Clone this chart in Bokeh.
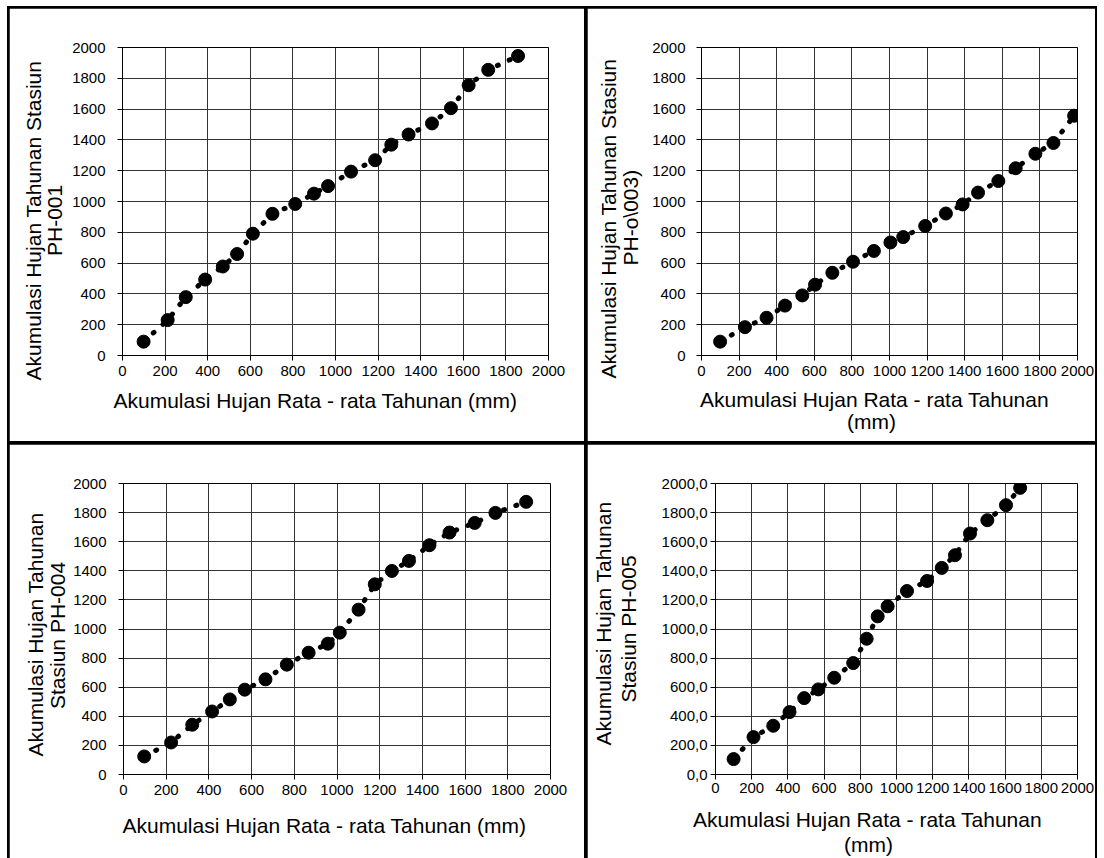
from bokeh.plotting import figure
from bokeh.layouts import column, row
from bokeh.models import FixedTicker, Range1d, Title
from bokeh.embed import file_html
from bokeh.resources import INLINE

# ---------------- data ----------------
tick_values = [0, 200, 400, 600, 800, 1000, 1200, 1400, 1600, 1800, 2000]
x_tick_labels = ["0", "200", "400", "600", "800", "1000", "1200", "1400", "1600", "1800", "2000"]
y_tick_labels = ["0", "200", "400", "600", "800", "1000", "1200", "1400", "1600", "1800", "2000"]
y_tick_labels_dec = ["0,0", "200,0", "400,0", "600,0", "800,0", "1000,0", "1200,0",
                     "1400,0", "1600,0", "1800,0", "2000,0"]

ph001_x = [99, 212, 297, 388, 471, 538, 612, 704, 811, 899, 965, 1073, 1186, 1262, 1343, 1453, 1542, 1625, 1717, 1857]
ph001_y = [90, 230, 379, 493, 578, 659, 791, 920, 984, 1051, 1100, 1194, 1268, 1369, 1435, 1507, 1606, 1755, 1855, 1945]

ph003_x = [99, 231, 346, 444, 536, 604, 696, 806, 917, 1005, 1073, 1190, 1300, 1389, 1471, 1579, 1671, 1776, 1872, 1982]
ph003_y = [90, 184, 245, 324, 390, 460, 537, 609, 679, 734, 769, 841, 922, 981, 1058, 1133, 1216, 1310, 1380, 1557]

ph004_x = [97, 223, 322, 415, 498, 568, 665, 765, 867, 957, 1013, 1101, 1177, 1257, 1337, 1433, 1527, 1645, 1742, 1886]
ph004_y = [124, 220, 342, 433, 516, 583, 654, 755, 837, 899, 975, 1133, 1307, 1399, 1468, 1576, 1663, 1729, 1798, 1874]

ph005_x = [100, 210, 319, 409, 490, 568, 656, 761, 835, 896, 951, 1058, 1169, 1250, 1323, 1406, 1502, 1605, 1683]
ph005_y = [106, 257, 335, 429, 525, 585, 665, 766, 933, 1087, 1156, 1261, 1330, 1420, 1507, 1656, 1748, 1851, 1970]

x_title_full = "Akumulasi Hujan Rata - rata Tahunan (mm)"
x_title_line1 = "Akumulasi Hujan Rata - rata Tahunan"
x_title_line2 = "(mm)"
y_title_a = "Akumulasi Hujan Tahunan Stasiun"
y_title_b = "Akumulasi Hujan Tahunan"
y_title_001 = "PH-001"
y_title_003 = "PH-o\\003)"
y_title_004 = "Stasiun PH-004"
y_title_005 = "Stasiun PH-005"

FONT = "Liberation Sans"

# page layout: container at (7, 6) with 2px black padding, 3px black gaps
OX, OY = 9, 8
W_L, W_R, H_T, H_B = 575, 508, 433, 414
GAP = 3


def add_title(p, text, side, offset, standoff):
    # titles listed nearest-to-frame first; offset measured along the frame
    p.add_layout(Title(text=text, align="left", offset=offset, standoff=standoff,
                       vertical_align="top", text_font=FONT, text_font_size="21px",
                       text_font_style="normal", text_color="black"), side)


def make_panel(xs, ys, origin, size, frame, ylabels, ystand=12, xstand=5):
    ox, oy = origin
    width, height = size
    fl, ft, fr, fb = frame  # frame box in page pixels
    p = figure(width=width, height=height,
               x_range=Range1d(0, 2000), y_range=Range1d(0, 2000),
               output_backend="svg", toolbar_location=None,
               min_border_left=fl - ox, min_border_right=ox + width - fr,
               min_border_top=ft - oy, min_border_bottom=oy + height - fb)
    p.background_fill_color = "white"
    p.border_fill_color = "white"
    p.outline_line_color = "black"
    p.outline_line_width = 1

    for grid in (p.xgrid, p.ygrid):
        grid.ticker = FixedTicker(ticks=tick_values)
        grid.grid_line_color = "#333333"
        grid.grid_line_width = 1
        grid.grid_line_alpha = 1.0

    for ax, labels in ((p.xaxis[0], x_tick_labels), (p.yaxis[0], ylabels)):
        ax.ticker = FixedTicker(ticks=tick_values)
        ax.major_label_overrides = {v: s for v, s in zip(tick_values, labels)}
        ax.minor_tick_line_color = None
        ax.major_tick_in = 0
        ax.major_tick_out = 5
        ax.major_tick_line_color = "black"
        ax.axis_line_color = "black"
        ax.major_label_text_font = FONT
        ax.major_label_text_font_size = "15px"
        ax.major_label_text_color = "black"
        ax.axis_label_text_font = FONT
        ax.axis_label_text_font_size = "21px"
        ax.axis_label_text_font_style = "normal"
        ax.axis_label_text_color = "black"
    p.yaxis.major_label_standoff = ystand
    p.xaxis.major_label_standoff = xstand

    p.line(xs, ys, line_color="black", line_width=5, line_dash="1 12", line_cap="round")
    p.scatter(xs, ys, size=13, fill_color="black", line_color="black")
    return p


# top-left: PH-001
p1 = make_panel(ph001_x, ph001_y, (OX, OY), (W_L, H_T), (122, 46, 548, 355), y_tick_labels, 12, 5)
add_title(p1, x_title_full, "below", -9, 20)
add_title(p1, y_title_001, "left", 99.5, 3.2)
add_title(p1, y_title_a, "left", -25, -11.2)

# top-right: PH-o\003)
p2 = make_panel(ph003_x, ph003_y, (OX + W_L + GAP, OY), (W_R, H_T), (701, 47, 1077, 355), y_tick_labels, 11, 5)
add_title(p2, x_title_line1, "below", -1.5, 18)
add_title(p2, x_title_line2, "below", 145.5, -24)
add_title(p2, y_title_003, "left", 90, 11.2)
add_title(p2, y_title_a, "left", -23, -17.2)

# bottom-left: PH-004
p3 = make_panel(ph004_x, ph004_y, (OX, OY + H_T + GAP), (W_L, H_B), (123, 483, 550, 774), y_tick_labels, 12, 5)
add_title(p3, x_title_full, "below", -1, 32)
add_title(p3, y_title_004, "left", 65.5, -0.8)
add_title(p3, y_title_b, "left", 18, -5.2)

# bottom-right: PH-005
p4 = make_panel(ph005_x, ph005_y, (OX + W_L + GAP, OY + H_T + GAP), (W_R, H_B), (715, 483, 1077, 774),
                y_tick_labels_dec, 3, 3)
add_title(p4, x_title_line1, "below", -22.5, 24)
add_title(p4, x_title_line2, "below", 128.5, -24)
p4.yaxis.axis_label = y_title_005
p4.yaxis.axis_label_standoff = 19
add_title(p4, y_title_b, "left", 29, -5.8)

top = row(p1, p2, spacing=GAP)
bottom = row(p3, p4, spacing=GAP)
layout = column(top, bottom, spacing=GAP)
layout.styles = {"background-color": "black", "padding": "2px 2px 0px 2px",
                 "margin-left": "7px", "margin-top": "6px"}

open("out.html", "w").write(file_html(layout, INLINE))
